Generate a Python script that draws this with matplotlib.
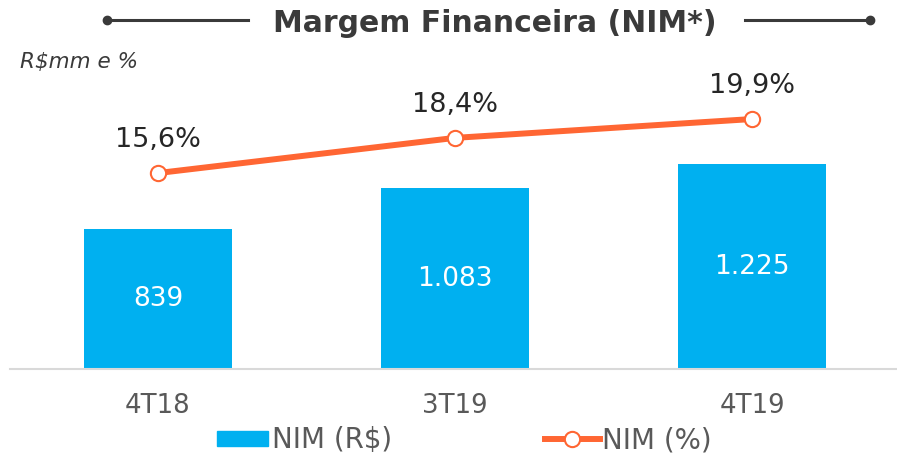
import matplotlib.pyplot as plt
from matplotlib.lines import Line2D
from matplotlib.patches import Rectangle

# chart data
categories = ['4T18', '3T19', '4T19']
nim_rs = [839, 1083, 1225]
nim_pct = [15.6, 18.4, 19.9]

BLUE = '#00B0F0'
ORANGE = '#FF6633'
DARK = '#3A3A3A'
GRAY = '#595959'

W, H = 897, 457
fig = plt.figure(figsize=(W / 100, H / 100), dpi=100)

# axes placed so the baseline sits at y=369 px
ax = fig.add_axes([10 / W, 1 - 369 / H, 887 / W, 309 / H])
ax2 = ax.twinx()

x = list(range(len(categories)))
ax.bar(x, nim_rs, width=0.5, color=BLUE, zorder=2)
ax.set_xlim(-0.4983, 2.4882)
ax.set_ylim(0, 1850)
ax2.set_ylim(0, 24.6)

for i, v in zip(x, nim_rs):
    ax.text(i, v / 2, f'{v:,}'.replace(',', '.'), ha='center', va='center',
            color='white', fontsize=19)

ax2.plot(x, nim_pct, color=ORANGE, lw=4.3, marker='o', markersize=11,
         markerfacecolor='white', markeredgecolor=ORANGE, markeredgewidth=1.5,
         solid_capstyle='butt', zorder=3)
for i, v in zip(x, nim_pct):
    ax2.annotate(f'{v:.1f}%'.replace('.', ','), (i, v), xytext=(0, 24),
                 textcoords='offset points', ha='center', va='center',
                 color='#262626', fontsize=19.5)

for a in (ax, ax2):
    for s in a.spines.values():
        s.set_visible(False)
    a.set_yticks([])
ax.spines['bottom'].set_visible(True)
ax.spines['bottom'].set_color('#D9D9D9')
ax.spines['bottom'].set_linewidth(1.5)
ax.set_xticks(x)
ax.set_xticklabels(categories, fontsize=18.7, color=GRAY)
ax.tick_params(axis='x', length=0, pad=17)

# title with decorative lines
fig.text(495 / W, 1 - 23 / H, 'Margem Financeira (NIM*)', ha='center', va='center',
         fontsize=21.5, fontweight='bold', color=DARK)
for x0, x1, dot in [(107, 248, 107), (745, 870, 870)]:
    fig.add_artist(Line2D([x0 / W, x1 / W], [1 - 20 / H] * 2, color=DARK, lw=2.2,
                          transform=fig.transFigure))
    fig.add_artist(Line2D([dot / W], [1 - 20 / H], marker='o', markersize=6,
                          color=DARK, transform=fig.transFigure))

fig.text(20 / W, 1 - 62 / H, 'R\\$mm e %', ha='left', va='center', fontsize=15.5,
         style='italic', color=DARK)

# legend
fig.add_artist(Rectangle((217 / W, 1 - 446 / H), 51 / W, 15 / H, color=BLUE,
                         transform=fig.transFigure))
fig.text(272 / W, 1 - 440 / H, 'NIM (R\\$)', ha='left', va='center', fontsize=20,
         color=GRAY)
fig.add_artist(Line2D([545 / W, 600 / W], [1 - 439 / H] * 2, color=ORANGE, lw=4.3,
                      transform=fig.transFigure))
fig.add_artist(Line2D([572 / W], [1 - 439 / H], marker='o', markersize=11,
                      markerfacecolor='white', markeredgecolor=ORANGE,
                      markeredgewidth=1.5, transform=fig.transFigure))
fig.text(602 / W, 1 - 440 / H, 'NIM (%)', ha='left', va='center', fontsize=20,
         color=GRAY)

fig.savefig('out.png', dpi=100)
